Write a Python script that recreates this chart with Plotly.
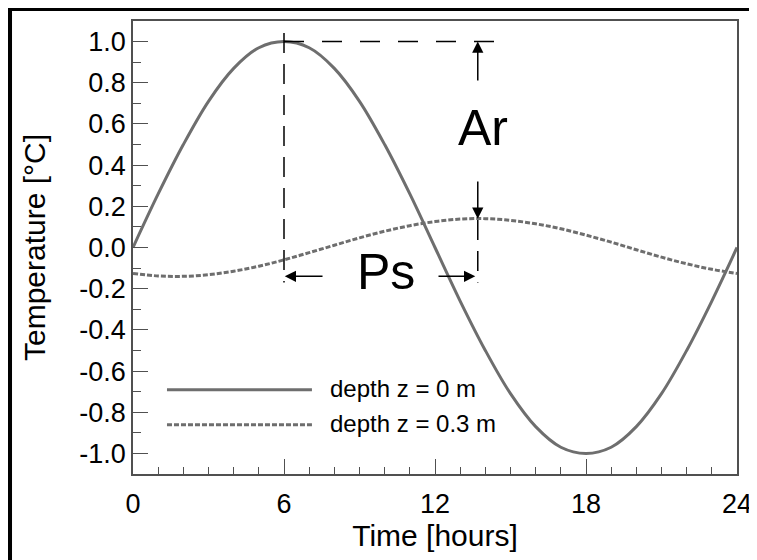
import plotly.graph_objects as go

# ---- data ----
time_hours = list(range(0, 25))
temp_surface = [0.00, 0.26, 0.50, 0.71, 0.87, 0.97, 1.00, 0.97, 0.87, 0.71, 0.50, 0.26, 0.00,
                -0.26, -0.50, -0.71, -0.87, -0.97, -1.00, -0.97, -0.87, -0.71, -0.50, -0.26, 0.00]
temp_depth = [-0.126, -0.138, -0.140, -0.132, -0.115, -0.091, -0.060, -0.025, 0.011, 0.047,
              0.079, 0.106, 0.126, 0.138, 0.140, 0.132, 0.115, 0.091, 0.060, 0.026, -0.011,
              -0.047, -0.079, -0.106, -0.126]
series_names = ["depth z = 0 m", "depth z = 0.3 m"]
x_tick_vals = [0, 6, 12, 18, 24]
x_tick_text = ["0", "6", "12", "18", "24"]
y_tick_vals = [-1.0, -0.8, -0.6, -0.4, -0.2, 0.0, 0.2, 0.4, 0.6, 0.8, 1.0]
y_tick_text = ["-1.0", "-0.8", "-0.6", "-0.4", "-0.2", "0.0", "0.2", "0.4", "0.6", "0.8", "1.0"]
peak_surface_t = 6.0
peak_depth_t = 13.7
peak_depth_val = 0.14

FONT = "Arial, Liberation Sans, sans-serif"
CURVE = "#6e6e6e"
AXC = "#505050"

fig = go.Figure()
fig.add_trace(go.Scatter(x=time_hours, y=temp_surface, mode="lines", line_shape="spline",
                         line=dict(color=CURVE, width=3), name=series_names[0], showlegend=False))
fig.add_trace(go.Scatter(x=time_hours, y=temp_depth, mode="lines", line_shape="spline",
                         line=dict(color=CURVE, width=3, dash="5px,2px"), name=series_names[1],
                         showlegend=False))

shapes = []
# dashed guide lines
shapes.append(dict(type="line", xref="x", yref="y", x0=peak_surface_t, x1=14.42, y0=1.0, y1=1.0,
                   line=dict(color="black", width=1.5, dash="20px,18px")))
shapes.append(dict(type="line", xref="x", yref="y", x0=peak_surface_t, x1=peak_surface_t, y0=1.042, y1=-0.17,
                   line=dict(color="black", width=1.5, dash="20px,11px")))
shapes.append(dict(type="line", xref="x", yref="y", x0=peak_depth_t, x1=peak_depth_t, y0=0.134, y1=-0.17,
                   line=dict(color="black", width=1.5, dash="20px,11px")))
# manual legend lines
shapes.append(dict(type="line", xref="x", yref="y", x0=1.35, x1=7.11, y0=-0.691, y1=-0.691,
                   line=dict(color=CURVE, width=3)))
shapes.append(dict(type="line", xref="x", yref="y", x0=1.35, x1=7.11, y0=-0.861, y1=-0.861,
                   line=dict(color=CURVE, width=3, dash="5px,2px")))
# outer black frame (top and left), paper coords: plot is 604 x 453 px, origin at (125, 466) in figure px
shapes.append(dict(type="rect", xref="paper", yref="paper", x0=-0.2070, x1=-0.2003, y0=-0.2, y1=1.0287,
                   fillcolor="black", line=dict(width=0), layer="above"))
shapes.append(dict(type="rect", xref="paper", yref="paper", x0=-0.2070, x1=1.05, y0=1.0221, y1=1.0287,
                   fillcolor="black", line=dict(width=0), layer="above"))

annotations = []
arrow_common = dict(xref="x", yref="y", axref="x", ayref="y", text="", showarrow=True,
                    arrowhead=2, arrowsize=1.5, arrowwidth=1.5, arrowcolor="black", standoff=0)
annotations.append(dict(x=peak_depth_t, y=1.0, ax=peak_depth_t, ay=0.804, **arrow_common))
annotations.append(dict(x=peak_depth_t, y=peak_depth_val, ax=peak_depth_t, ay=0.328, **arrow_common))
annotations.append(dict(x=6.03, y=-0.14, ax=7.59, ay=-0.14, **arrow_common))
annotations.append(dict(x=13.6, y=-0.14, ax=12.08, ay=-0.14, **arrow_common))
annotations.append(dict(x=13.89, y=0.58, xref="x", yref="y", text="Ar", showarrow=False,
                        font=dict(family=FONT, size=50, color="black")))
annotations.append(dict(x=10.07, y=-0.12, xref="x", yref="y", text="Ps", showarrow=False,
                        font=dict(family=FONT, size=50, color="black")))
annotations.append(dict(x=7.75, y=-0.687, xref="x", yref="y", text=series_names[0], showarrow=False,
                        xanchor="left", font=dict(family=FONT, size=24, color="black")))
annotations.append(dict(x=7.75, y=-0.857, xref="x", yref="y", text=series_names[1], showarrow=False,
                        xanchor="left", font=dict(family=FONT, size=24, color="black")))

fig.update_layout(
    width=749, height=552,
    margin=dict(l=125, r=20, t=13, b=86),
    paper_bgcolor="white", plot_bgcolor="white",
    font=dict(family=FONT, color="black"),
    shapes=shapes, annotations=annotations, showlegend=False,
)
fig.update_xaxes(range=[0, 24], tickvals=x_tick_vals, ticktext=x_tick_text, ticks="inside", ticklen=15,
                 tickwidth=1.2, tickcolor=AXC, showline=True, linecolor=AXC, linewidth=1.5, mirror=True,
                 showgrid=False, zeroline=False, tickfont=dict(size=27), automargin=False,
                 ticklabelstandoff=5,
                 minor=dict(dtick=1, ticks="inside", ticklen=7, tickwidth=1.2, tickcolor=AXC, showgrid=False),
                 title=dict(text="Time [hours]", font=dict(size=30), standoff=6))
fig.update_yaxes(range=[-1.1, 1.1], tickvals=y_tick_vals, ticktext=y_tick_text, ticks="inside", ticklen=15,
                 tickwidth=1.2, tickcolor=AXC, showline=True, linecolor=AXC, linewidth=1.5, mirror=True,
                 showgrid=False, zeroline=False, tickfont=dict(size=27), automargin=False,
                 minor=dict(dtick=0.1, ticks="inside", ticklen=8, tickwidth=1.2, tickcolor=AXC, showgrid=False),
                 title=dict(text="Temperature [°C]", font=dict(size=30), standoff=25))

fig.write_html("out.html")
